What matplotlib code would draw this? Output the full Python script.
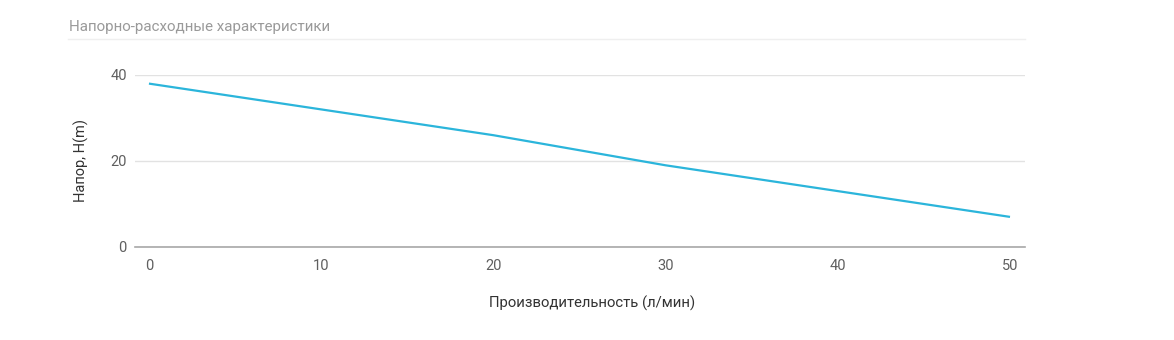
import matplotlib
matplotlib.use('Agg')
import matplotlib.pyplot as plt
from matplotlib.lines import Line2D

plt.rcParams['font.family'] = ['Roboto', 'DejaVu Sans']

flow = [0, 10, 20, 30, 40, 50]
head = [38, 32, 26, 19, 13, 7]
x_ticks = [0, 10, 20, 30, 40, 50]
y_ticks = [0, 20, 40]

fig = plt.figure(figsize=(11.74, 3.4), dpi=100)
ax = fig.add_axes([135 / 1174, 1 - 247 / 340, 890 / 1174, 172 / 340])

ax.plot(flow, head, color='#2bb5db', linewidth=1.6, solid_capstyle='butt')

ax.set_xlim(-0.81, 50.87)
ax.set_ylim(0, 40)
ax.set_xticks(x_ticks)
ax.set_yticks(y_ticks)
ax.grid(axis='y', color='#e2e2e2', linewidth=1)
ax.set_axisbelow(True)
for s in ['top', 'right', 'left']:
    ax.spines[s].set_visible(False)
ax.spines['bottom'].set_color('#a8a8a8')
ax.spines['bottom'].set_linewidth(1.2)
ax.spines['bottom'].set_zorder(3)
ax.tick_params(length=0, labelsize=10.5, labelcolor='#5f5f5f')
ax.tick_params(axis='x', pad=9)
ax.tick_params(axis='y', pad=6)

ax.set_ylabel('Напор, H(m)', fontsize=10.5, color='#333333', labelpad=15)
ax.set_xlabel('Производительность (л/мин)', fontsize=10.7, color='#333333')
ax.xaxis.set_label_coords(0.5135, -0.285)

fig.text(69 / 1174, 1 - 27 / 340, 'Напорно-расходные характеристики', fontsize=10.9,
         color='#9a9a9a', va='center', ha='left')
fig.add_artist(Line2D([68 / 1174, 1025 / 1174], [1 - 39 / 340, 1 - 39 / 340],
                      color='#efefef', linewidth=1))

fig.savefig('out.png', dpi=100)
